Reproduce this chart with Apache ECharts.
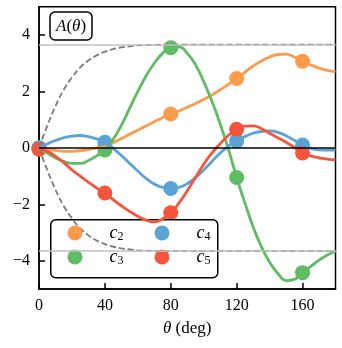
<!DOCTYPE html>
<html>
<head>
<meta charset="utf-8">
<script src="https://cdn.jsdelivr.net/npm/echarts@6/dist/echarts.min.js"></script>
<style>
  html, body { margin: 0; padding: 0; background: #fff; }
  #chart { width: 342px; height: 348px; }
</style>
</head>
<body>
<div id="chart"></div>
<script>
// data
const xTicks = [0, 40, 80, 120, 160];
const yTicks = [-4, -2, 0, 2, 4];
const refLevels = [3.66, -3.66];

const thetaEnv = [0, 5, 10, 15, 20, 25, 30, 35, 40, 45, 50, 55, 60, 70, 80, 100, 120, 140, 160, 180];
const envUpper = [0, 0.78, 1.48, 2.06, 2.5, 2.85, 3.1, 3.28, 3.41, 3.5, 3.56, 3.6, 3.63, 3.65, 3.66, 3.66, 3.66, 3.66, 3.66, 3.66];
const envLower = [0, -0.78, -1.48, -2.06, -2.5, -2.85, -3.1, -3.28, -3.41, -3.5, -3.56, -3.6, -3.63, -3.65, -3.66, -3.66, -3.66, -3.66, -3.66, -3.66];

const theta = [0, 5, 10, 15, 20, 25, 30, 35, 40, 45, 50, 55, 60, 65, 70, 75, 80, 85, 90, 95, 100, 105, 110, 115, 120, 125, 130, 135, 140, 145, 150, 155, 160, 165, 170, 175, 180];

const c2Curve = [0, -0.05, -0.09, -0.12, -0.12, -0.1, -0.06, 0, 0.05, 0.18, 0.33, 0.48, 0.63, 0.78, 0.93, 1.07, 1.2, 1.31, 1.44, 1.57, 1.72, 1.88, 2.06, 2.25, 2.46, 2.68, 2.9, 3.08, 3.22, 3.31, 3.32, 3.22, 3.07, 2.94, 2.83, 2.75, 2.7];
const c3Curve = [0, -0.18, -0.35, -0.48, -0.55, -0.55, -0.45, -0.28, -0.07, 0.3, 0.8, 1.4, 2.0, 2.55, 3.0, 3.35, 3.55, 3.58, 3.35, 2.95, 2.35, 1.65, 0.85, -0.05, -1.05, -1.95, -2.8, -3.5, -4.05, -4.45, -4.7, -4.66, -4.42, -4.2, -3.98, -3.8, -3.65];
const c4Curve = [0, 0.14, 0.26, 0.36, 0.42, 0.44, 0.4, 0.32, 0.2, -0.02, -0.27, -0.55, -0.82, -1.08, -1.28, -1.4, -1.44, -1.4, -1.27, -1.05, -0.78, -0.48, -0.18, 0.06, 0.25, 0.4, 0.52, 0.58, 0.6, 0.55, 0.43, 0.27, 0.1, -0.02, -0.07, -0.08, -0.08];
const c5Curve = [-0.05, -0.12, -0.3, -0.52, -0.78, -1.0, -1.22, -1.42, -1.6, -1.83, -2.05, -2.25, -2.42, -2.56, -2.62, -2.52, -2.3, -1.95, -1.52, -1.05, -0.58, -0.18, 0.15, 0.44, 0.66, 0.77, 0.78, 0.68, 0.52, 0.36, 0.2, 0.02, -0.18, -0.28, -0.35, -0.4, -0.42];

const c2Pts = [0, 0.05, 1.2, 2.46, 3.07];
const c3Pts = [0, -0.07, 3.55, -1.05, -4.42];
const c4Pts = [0, 0.2, -1.44, 0.25, 0.1];
const c5Pts = [-0.05, -1.6, -2.3, 0.66, -0.18];

const colors = { c2: '#FD9A4B', c3: '#5FBC63', c4: '#58A4D5', c5: '#F5553C' };
const serif = "'Liberation Serif', 'DejaVu Serif', serif";

function pairs(xs, ys) {
  return xs.map((x, i) => [x, ys[i]]);
}

function curve(name, ys) {
  return {
    name: name,
    type: 'line',
    data: pairs(theta, ys),
    smooth: 0.5,
    showSymbol: false,
    silent: true,
    lineStyle: { width: 2.8, color: colors[name] },
    itemStyle: { color: colors[name] }
  };
}

function dots(name, ys) {
  return {
    name: name,
    type: 'scatter',
    data: pairs(xTicks, ys),
    symbol: 'circle',
    symbolSize: 15,
    silent: true,
    itemStyle: { color: colors[name], opacity: 1 }
  };
}

function legendCol(names, left) {
  return {
    data: names,
    orient: 'vertical',
    left: left,
    top: 223,
    padding: 0,
    itemWidth: 15,
    itemHeight: 15,
    itemGap: 4,
    icon: 'circle',
    formatter: function (name) {
      return '{i|c}{s|' + name.slice(1) + '}';
    },
    textStyle: {
      rich: {
        i: { fontFamily: serif, fontStyle: 'italic', fontSize: 18, color: '#000', padding: [0, 0, 0, 22], lineHeight: 20 },
        s: { fontFamily: serif, fontSize: 12, color: '#000', padding: [8, 0, 0, 0], lineHeight: 20 }
      }
    }
  };
}

let myChart = echarts.init(document.getElementById('chart'));

let option = {
  animation: false,
  textStyle: { fontFamily: serif },
  title: {
    text: '{i|A}{n|(}{i|θ}{n|)}',
    left: 50,
    top: 12,
    padding: [6, 6, 5, 6],
    borderColor: '#000',
    borderWidth: 1.5,
    borderRadius: 5,
    backgroundColor: '#fff',
    textStyle: {
      fontWeight: 'normal',
      rich: {
        i: { fontFamily: serif, fontStyle: 'italic', fontWeight: 'normal', fontSize: 17, color: '#000' },
        n: { fontFamily: serif, fontWeight: 'normal', fontSize: 17, color: '#000' }
      }
    }
  },
  graphic: [
    {
      type: 'rect',
      left: 50,
      top: 219,
      z: 3,
      silent: true,
      shape: { width: 167, height: 58, r: 5 },
      style: { fill: 'rgba(255,255,255,0.8)', stroke: '#000', lineWidth: 1.5 }
    }
  ],
  legend: [
    legendCol(['c2', 'c3'], 67.5),
    legendCol(['c4', 'c5'], 154.5)
  ],
  grid: {
    left: 39,
    right: 6.5,
    top: 6.8,
    bottom: 59,
    show: true,
    borderColor: '#000',
    borderWidth: 1.5,
    backgroundColor: 'transparent'
  },
  xAxis: {
    type: 'value',
    min: 0,
    max: 180,
    interval: 40,
    name: '{i|θ} (deg)',
    nameLocation: 'middle',
    nameGap: 31,
    nameTextStyle: {
      fontFamily: serif,
      fontSize: 17,
      color: '#000',
      rich: {
        i: { fontFamily: serif, fontStyle: 'italic', fontSize: 17, color: '#000' }
      }
    },
    axisLine: { show: true, onZero: false, lineStyle: { color: '#000', width: 1.5 } },
    axisTick: { show: true, inside: true, length: 6, lineStyle: { color: '#000', width: 1.5 } },
    axisLabel: { showMaxLabel: false, margin: 9, fontFamily: serif, fontSize: 16, color: '#000' },
    splitLine: { show: false }
  },
  yAxis: {
    type: 'value',
    min: -5,
    max: 5,
    axisLine: { show: true, onZero: false, lineStyle: { color: '#000', width: 1.5 } },
    axisTick: { show: true, inside: true, length: 6, customValues: yTicks, lineStyle: { color: '#000', width: 1.5 } },
    axisLabel: {
      customValues: yTicks,
      margin: 9,
      fontFamily: serif,
      fontSize: 16,
      color: '#000',
      formatter: v => String(v).replace('-', '\u2212')
    },
    splitLine: { show: false }
  },
  series: [
    {
      name: 'ref',
      type: 'line',
      data: [],
      silent: true,
      markLine: {
        silent: true,
        symbol: 'none',
        label: { show: false },
        data: [
          { yAxis: refLevels[0], lineStyle: { color: '#c0c0c0', width: 1.5, type: 'solid' } },
          { yAxis: refLevels[1], lineStyle: { color: '#c0c0c0', width: 1.5, type: 'solid' } },
          { yAxis: 0, lineStyle: { color: '#000', width: 1.5, type: 'solid' } }
        ]
      }
    },
    {
      name: 'envUp',
      type: 'line',
      data: pairs(thetaEnv, envUpper),
      smooth: 0.4,
      showSymbol: false,
      silent: true,
      lineStyle: { color: '#7a7a7a', width: 1.8, type: [6, 3] }
    },
    {
      name: 'envLow',
      type: 'line',
      data: pairs(thetaEnv, envLower),
      smooth: 0.4,
      showSymbol: false,
      silent: true,
      lineStyle: { color: '#7a7a7a', width: 1.8, type: [6, 3] }
    },
    curve('c2', c2Curve),
    dots('c2', c2Pts),
    curve('c3', c3Curve),
    dots('c3', c3Pts),
    curve('c4', c4Curve),
    dots('c4', c4Pts),
    curve('c5', c5Curve),
    dots('c5', c5Pts)
  ]
};

myChart.setOption(option);
</script>
</body>
</html>
